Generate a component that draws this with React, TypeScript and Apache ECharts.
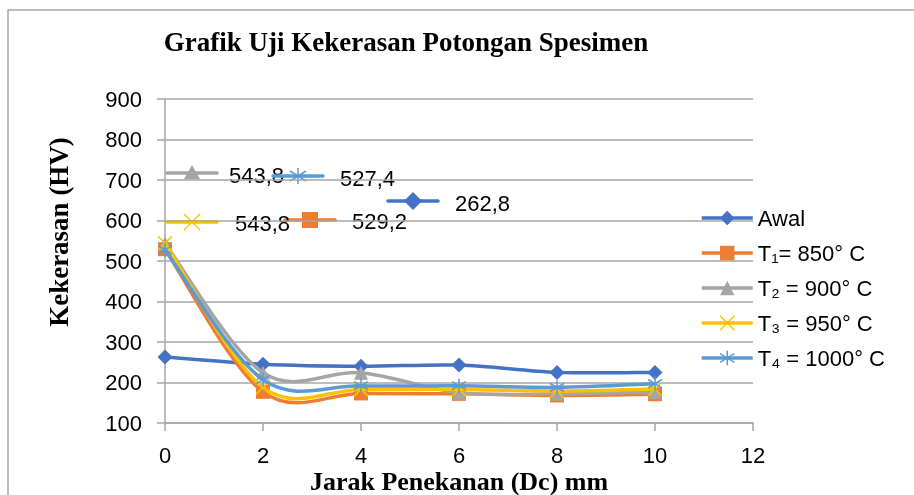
import React, { useEffect, useRef } from 'react';
import * as echarts from 'echarts';

// ---- data ----
const distances = [0, 2, 4, 6, 8, 10];
const awal = [262.8, 245, 240, 243, 225, 225];
const t1 = [529.2, 177, 173, 172, 168, 171];
const t2 = [543.8, 224, 224, 175, 172, 176];
const t3 = [543.8, 188, 183, 183, 179, 184];
const t4 = [527.4, 207, 192, 192, 188, 197];
const seriesNames = ['Awal', 'T₁= 850° C', 'T₂ = 900° C', 'T₃ = 950° C', 'T₄ = 1000° C'];
const xAxisRange = [0, 12, 2];
const yAxisRange = [100, 900, 100];
const chartTitle = 'Grafik Uji Kekerasan Potongan Spesimen';
const xTitle = 'Jarak Penekanan (Dc) mm';
const yTitle = 'Kekerasan (HV)';

const allValues = [awal, t1, t2, t3, t4];
const colors = ['#4472C4', '#ED7D31', '#A5A5A5', '#FFC000', '#5B9BD5'];
const SANS = "'Liberation Sans', Arial, sans-serif";
const SERIF = "'Liberation Serif', 'Times New Roman', serif";

const X_PATH = 'path://M0,0L10,10M10,0L0,10';
const STAR_PATH = 'path://M5,0L5,10M0,2L10,8M0,8L10,2';
const symbols = ['diamond', 'rect', 'triangle', X_PATH, STAR_PATH];
const symbolSizes = [15, 14, 14, 14, 14];

function smoothPath(pts: number[][]) {
  let d = `M${pts[0][0]},${pts[0][1]}`;
  for (let i = 0; i < pts.length - 1; i++) {
    const p0 = pts[i - 1] || pts[i];
    const p1 = pts[i];
    const p2 = pts[i + 1];
    const p3 = pts[i + 2] || p2;
    const c1 = [p1[0] + (p2[0] - p0[0]) / 6, p1[1] + (p2[1] - p0[1]) / 6];
    const c2 = [p2[0] - (p3[0] - p1[0]) / 6, p2[1] - (p3[1] - p1[1]) / 6];
    d += ` C${c1[0]},${c1[1]} ${c2[0]},${c2[1]} ${p2[0]},${p2[1]}`;
  }
  return d;
}

const fmt = (v: number) => v.toFixed(1).replace('.', ',');

// legend-key style data label (line + marker + text)
function labelKey(idx: number, x0: number, y: number, tx: number, ty: number) {
  const color = colors[idx];
  const cx = x0 + 25;
  const els: any[] = [
    { type: 'line', shape: { x1: x0, y1: y, x2: x0 + 50, y2: y }, style: { stroke: color, lineWidth: 3.5, lineCap: 'round' } },
  ];
  if (idx === 0) {
    els.push({ type: 'polygon', shape: { points: [[cx, y - 9], [cx + 9, y], [cx, y + 9], [cx - 9, y]] }, style: { fill: color } });
  } else if (idx === 1) {
    els.push({ type: 'rect', shape: { x: cx - 8, y: y - 8, width: 16, height: 16 }, style: { fill: color } });
  } else if (idx === 2) {
    els.push({ type: 'polygon', shape: { points: [[cx, y - 8], [cx + 8, y + 6], [cx - 8, y + 6]] }, style: { fill: color } });
  } else if (idx === 3) {
    els.push({ type: 'line', shape: { x1: cx - 8, y1: y - 8, x2: cx + 8, y2: y + 8 }, style: { stroke: color, lineWidth: 1.5 } });
    els.push({ type: 'line', shape: { x1: cx - 8, y1: y + 8, x2: cx + 8, y2: y - 8 }, style: { stroke: color, lineWidth: 1.5 } });
  } else {
    els.push({ type: 'line', shape: { x1: cx, y1: y - 8, x2: cx, y2: y + 8 }, style: { stroke: color, lineWidth: 1.5 } });
    els.push({ type: 'line', shape: { x1: cx - 8, y1: y - 5, x2: cx + 8, y2: y + 5 }, style: { stroke: color, lineWidth: 1.5 } });
    els.push({ type: 'line', shape: { x1: cx - 8, y1: y + 5, x2: cx + 8, y2: y - 5 }, style: { stroke: color, lineWidth: 1.5 } });
  }
  els.push({
    type: 'text',
    x: tx,
    y: ty,
    style: { text: fmt(allValues[idx][0]), font: `22px ${SANS}`, fill: '#000', align: 'left', verticalAlign: 'middle' },
  });
  return els;
}

export default function App() {
  const ref = useRef<HTMLDivElement>(null);
  useEffect(() => {
    if (!ref.current) return;
    const chart = echarts.init(ref.current, undefined, { renderer: 'svg' });

    const series: any[] = [];
    allValues.forEach((vals, i) => {
      const data = distances.map((x, k) => [x, vals[k]]);
      series.push({
        type: 'custom',
        name: seriesNames[i] + ' curve',
        data,
        encode: { x: 0, y: 1 },
        z: 2 + 2 * i,
        silent: true,
        renderItem: (params: any, api: any) => {
          if (params.dataIndex !== 0) return null;
          const pts = distances.map((x, k) => api.coord([x, vals[k]]));
          return {
            type: 'path',
            shape: { pathData: smoothPath(pts) },
            style: { stroke: colors[i], lineWidth: 3.5, fill: 'none', lineJoin: 'round' },
          };
        },
      });
      series.push({
        type: 'line',
        name: seriesNames[i],
        data,
        z: 3 + 2 * i,
        symbol: symbols[i],
        symbolSize: symbolSizes[i],
        showSymbol: true,
        lineStyle: { width: 0, opacity: 0 },
        itemStyle: { color: colors[i], borderColor: colors[i], borderWidth: i >= 3 ? 1.5 : 0 },
        emphasis: { disabled: true },
      });
    });

    const graphics: any[] = [
      { type: 'rect', shape: { x: 8, y: 10, width: 1200, height: 1000 }, style: { fill: 'none', stroke: '#A6A6A6', lineWidth: 1.5 }, z: -1 },
      { type: 'text', x: 406, y: 42, style: { text: chartTitle, font: `bold 27px ${SERIF}`, fill: '#000', align: 'center', verticalAlign: 'middle' } },
      { type: 'text', x: 459, y: 481, style: { text: xTitle, font: `bold 26px ${SERIF}`, fill: '#000', align: 'center', verticalAlign: 'middle' } },
      { type: 'text', x: 59, y: 232, rotation: Math.PI / 2, style: { text: yTitle, font: `bold 27px ${SERIF}`, fill: '#000', align: 'center', verticalAlign: 'middle' } },
      ...labelKey(0, 388, 201, 455, 203),
      ...labelKey(1, 285, 220, 352, 221),
      ...labelKey(2, 167, 173, 229, 175),
      ...labelKey(3, 167, 222, 235, 223),
      ...labelKey(4, 273, 176, 340, 178),
    ];

    chart.setOption({
      animation: false,
      grid: { left: 165, right: 161, top: 99, bottom: 72, containLabel: false },
      xAxis: {
        type: 'value',
        min: xAxisRange[0],
        max: xAxisRange[1],
        interval: xAxisRange[2],
        axisLine: { show: true, onZero: false, lineStyle: { color: '#A6A6A6', width: 1.5 } },
        axisTick: { show: true, length: 8, lineStyle: { color: '#A6A6A6', width: 1.5 } },
        axisLabel: { color: '#000', fontFamily: SANS, fontSize: 22, margin: 21 },
        splitLine: { show: false },
      },
      yAxis: {
        type: 'value',
        min: yAxisRange[0],
        max: yAxisRange[1],
        interval: yAxisRange[2],
        axisLine: { show: true, lineStyle: { color: '#A6A6A6', width: 1.5 } },
        axisTick: { show: true, length: 8, lineStyle: { color: '#A6A6A6', width: 1.5 } },
        axisLabel: { color: '#000', fontFamily: SANS, fontSize: 22, margin: 23 },
        splitLine: { show: true, lineStyle: { color: '#A6A6A6', width: 1.5 } },
      },
      legend: {
        orient: 'vertical',
        left: 695,
        top: 202,
        itemWidth: 51,
        itemHeight: 18,
        itemGap: 13,
        selectedMode: false,
        textStyle: { color: '#000', fontFamily: SANS, fontSize: 22 },
        data: seriesNames.map((n, i) => ({
          name: n,
          lineStyle: { color: colors[i], width: 3.5, opacity: 1 },
          itemStyle: { color: colors[i], borderColor: colors[i], borderWidth: i >= 3 ? 1.5 : 0, opacity: 1 },
        })),
      },
      graphic: graphics,
      series,
    });
    return () => chart.dispose();
  }, []);
  return <div ref={ref} style={{ position: 'fixed', left: 0, top: 0, width: 914, height: 495 }} />;
}
